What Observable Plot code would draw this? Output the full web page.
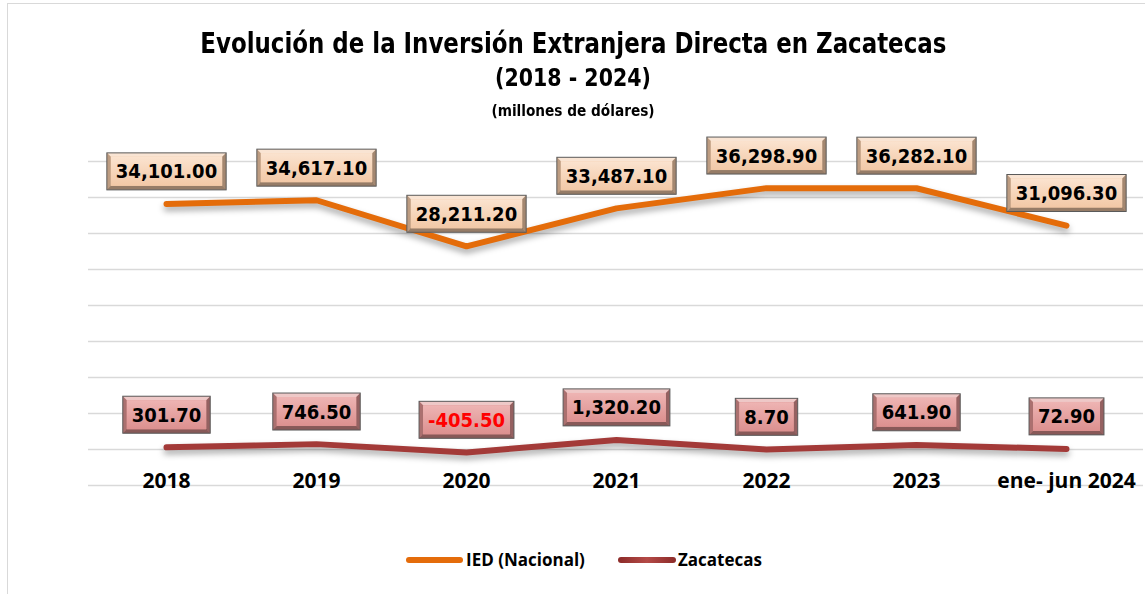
<!DOCTYPE html>
<html>
<head>
<meta charset="utf-8">
<script src="https://cdn.jsdelivr.net/npm/d3@7"></script>
<script src="https://cdn.jsdelivr.net/npm/@observablehq/plot@0.6"></script>
<style>
  html, body { margin: 0; padding: 0; background: #fff; }
  #page { position: relative; width: 1145px; height: 594px; overflow: hidden; background: #fff; }
  #frame { position: absolute; left: 7px; top: 3px; right: -5px; bottom: -5px; border-left: 1.5px solid #d9d9d9; border-top: 1.5px solid #d9d9d9; }
  .t { position: absolute; left: 0; width: 1145px; text-align: center; color: #000; font-weight: bold; white-space: nowrap; font-family: "DejaVu Sans Condensed", "DejaVu Sans", sans-serif; }
  #title { top: 27px; font-size: 28px; transform: scaleX(0.91); transform-origin: 582px 50%; }
  #sub { top: 64px; font-size: 24px; transform: scaleX(0.95); transform-origin: 582px 50%; }
  #unit { top: 101px; font-size: 16px; transform: scaleX(0.95); transform-origin: 582px 50%; }
  #chart { position: absolute; left: 0; top: 130px; }
  #chart svg g[aria-label="line"] { filter: drop-shadow(0px 4px 3px rgba(0,0,0,0.35)); }
  .lg { position: absolute; font-family: "Open Sans", sans-serif; font-weight: bold; font-size: 17px; color: #000; top: 548px; }
  .sw { position: absolute; height: 6px; border-radius: 3px; top: 557px; }
</style>
</head>
<body>
<div id="page">
  <div id="frame"></div>
  <div class="t" id="title">Evolución de la Inversión Extranjera Directa en Zacatecas</div>
  <div class="t" id="sub">(2018 - 2024)</div>
  <div class="t" id="unit">(millones de dólares)</div>
  <div id="chart"></div>
  <div class="sw" style="left:406px; width:57px; background:#e46c0a;"></div>
  <div class="lg" style="left:466px;">IED (Nacional)</div>
  <div class="sw" style="left:618px; width:58px; background:linear-gradient(90deg,#8c2b29,#b44a47,#8c2b29);"></div>
  <div class="lg" style="left:678px;">Zacatecas</div>
</div>
<script>
const years = ["2018", "2019", "2020", "2021", "2022", "2023", "ene- jun 2024"];
const nacional = [34101.0, 34617.1, 28211.2, 33487.1, 36298.9, 36282.1, 31096.3];
const zacatecas = [301.7, 746.5, -405.5, 1320.2, 8.7, 641.9, 72.9];
const gridTicks = [-5000, 0, 5000, 10000, 15000, 20000, 25000, 30000, 35000, 40000];

const nat = years.map((year, i) => ({year, value: nacional[i]}));
const zac = years.map((year, i) => ({year, value: zacatecas[i]}));
const f2 = d3.format(",.2f");
const fmt = v => f2(v).replace("\u2212", "-");
const labelFont = "'DejaVu Sans Condensed', 'DejaVu Sans', sans-serif";

const svg = Plot.plot({
  width: 1145,
  height: 365,
  marginTop: 31,
  marginBottom: 10,
  marginLeft: 88,
  marginRight: 2,
  x: {type: "point", domain: years, padding: 0.5, axis: null},
  y: {domain: [-5000, 40000], axis: null},
  marks: [
    Plot.ruleY(gridTicks, {stroke: "#d9d9d9", strokeWidth: 1.5}),
    Plot.line(nat, {x: "year", y: "value", stroke: "#e46c0a", strokeWidth: 6, strokeLinecap: "round", strokeLinejoin: "miter"}),
    Plot.line(zac, {x: "year", y: "value", stroke: "#a33a38", strokeWidth: 6, strokeLinecap: "round", strokeLinejoin: "miter"}),
    Plot.text(nat, {x: "year", y: "value", text: d => fmt(d.value), dy: -32, fontSize: 20, fontWeight: "bold", fontFamily: labelFont, fill: "#000"}),
    Plot.text(zac, {x: "year", y: "value", text: d => fmt(d.value), dy: -32, fontSize: 20, fontWeight: "bold", fontFamily: labelFont, fill: d => d.value < 0 ? "#ff0000" : "#000"}),
    Plot.text(years, {x: d => d, frameAnchor: "bottom", dy: 2, fontSize: 21, fontWeight: "bold", fontFamily: "'Open Sans', sans-serif", fill: "#000"})
  ]
});
document.getElementById("chart").append(svg);

const ns = "http://www.w3.org/2000/svg";
function el(tag, attrs, parent) {
  const e = document.createElementNS(ns, tag);
  for (const k in attrs) e.setAttribute(k, attrs[k]);
  parent.appendChild(e);
  return e;
}
const defs = el("defs", {}, svg);
function grad(id, c1, c2) {
  const g = el("linearGradient", {id, x1: 0, y1: 0, x2: 0, y2: 1}, defs);
  el("stop", {offset: "0%", "stop-color": c1}, g);
  el("stop", {offset: "100%", "stop-color": c2}, g);
}
grad("gNat", "#fbe3cf", "#f2c8a6");
grad("gZac", "#eeb4b3", "#dc908f");

const textGroups = svg.querySelectorAll('g[aria-label="text"]');
function boxify(g, gradId, base) {
  if (!g) return;
  const boxes = document.createElementNS(ns, "g");
  g.parentNode.insertBefore(boxes, g);
  const sr = svg.getBoundingClientRect();
  g.querySelectorAll("text").forEach(t => {
    const r = t.getBoundingClientRect();
    const padX = 9, h = 37, b = 4;
    const w = r.width + 2 * padX;
    const x = r.left - sr.left - padX;
    const cy = r.top - sr.top + r.height / 2;
    const y = cy - h / 2;
    el("rect", {x, y, width: w, height: h, fill: base}, boxes);
    el("polygon", {points: `${x},${y} ${x+w},${y} ${x+w-b},${y+b} ${x+b},${y+b}`, fill: "#ffffff", "fill-opacity": 0.5}, boxes);
    el("polygon", {points: `${x},${y} ${x+b},${y+b} ${x+b},${y+h-b} ${x},${y+h}`, fill: "#000", "fill-opacity": 0.22}, boxes);
    el("polygon", {points: `${x+w},${y} ${x+w},${y+h} ${x+w-b},${y+h-b} ${x+w-b},${y+b}`, fill: "#000", "fill-opacity": 0.32}, boxes);
    el("polygon", {points: `${x},${y+h} ${x+w},${y+h} ${x+w-b},${y+h-b} ${x+b},${y+h-b}`, fill: "#000", "fill-opacity": 0.38}, boxes);
    el("rect", {x: x + b, y: y + b, width: w - 2 * b, height: h - 2 * b, fill: `url(#${gradId})`}, boxes);
    el("rect", {x, y, width: w, height: h, fill: "none", stroke: "#5a5a5a", "stroke-width": 1}, boxes);
  });
}
boxify(textGroups[0], "gNat", "#f2c8a6");
boxify(textGroups[1], "gZac", "#dc908f");
</script>
</body>
</html>
